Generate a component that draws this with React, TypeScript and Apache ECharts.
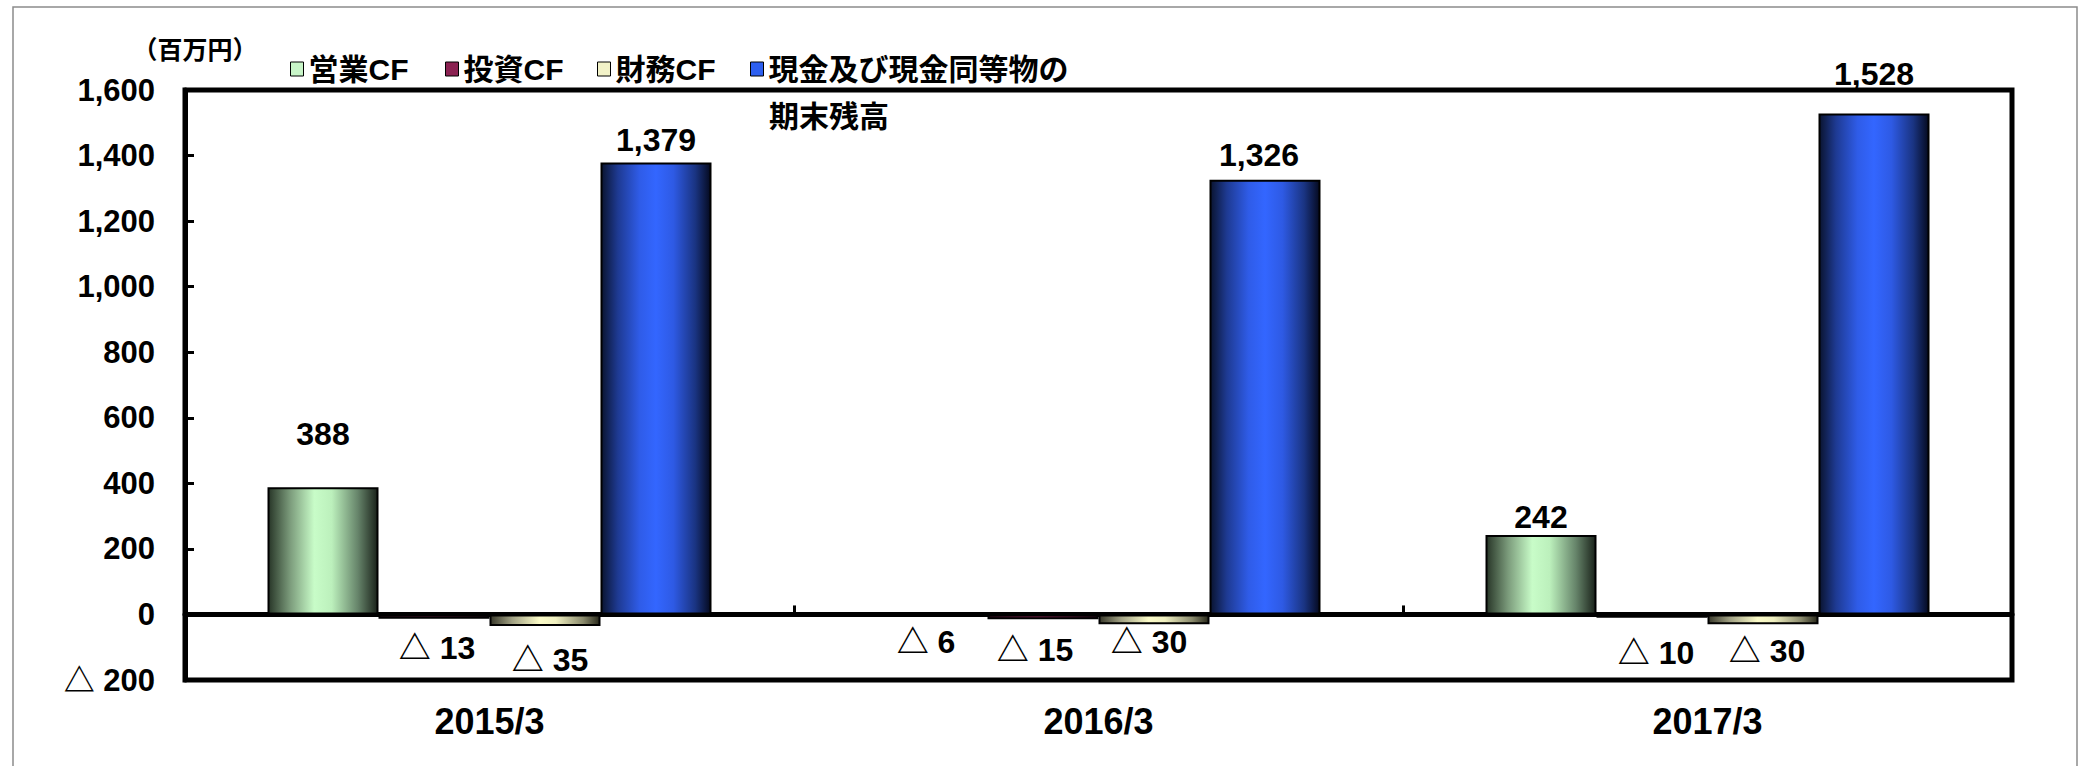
import React, { useEffect, useRef } from 'react';
import * as echarts from 'echarts';

// ---- data ----
const categories = ['2015/3', '2016/3', '2017/3'];
const seriesNames = ['営業CF', '投資CF', '財務CF', '現金及び現金同等物の期末残高'];
const operatingCF = [388, -6, 242];
const investingCF = [-13, -15, -10];
const financingCF = [-35, -30, -30];
const cashBalance = [1379, 1326, 1528];
const yMin = -200;
const yMax = 1600;
const yInterval = 200;
const unitLabel = '（百万円）';
const legendLine1 = '現金及び現金同等物の';
const legendLine2 = '期末残高';

// ---- label layout (distance from bar end, horizontal shift) ----
const labelDist = [
  [36, 8.5, 1],
  [12, 14, 18],
  [17.5, 1, 10],
  [5.7, 7.5, 23],
];
const labelDx = [
  [0, -6, 0],
  [3, -8, 4],
  [5, -5, 4],
  [0, -6, 0],
];

const LABEL = "'Liberation Sans', Arial, 'Noto Sans CJK JP', sans-serif";
const SANS = "'Liberation Sans', Arial, 'Noto Sans CJK JP', sans-serif";
const CJK = "'Noto Sans CJK JP', sans-serif";
const LEGEND_FONT = "'Liberation Sans', 'Noto Sans CJK JP', sans-serif";

const fmt = (v: number) => (v < 0 ? '△ ' + Math.abs(v).toLocaleString('en-US') : v.toLocaleString('en-US'));

const gradients = [
  [
    { offset: 0, color: '#283628' },
    { offset: 0.2, color: '#7c9c7c' },
    { offset: 0.42, color: '#c8fcc8' },
    { offset: 0.58, color: '#bcf0bc' },
    { offset: 0.82, color: '#66846a' },
    { offset: 1, color: '#1a221a' },
  ],
  [
    { offset: 0, color: '#2a0a18' },
    { offset: 0.25, color: '#6a1a40' },
    { offset: 0.45, color: '#8b2252' },
    { offset: 0.75, color: '#5a1535' },
    { offset: 1, color: '#1a0510' },
  ],
  [
    { offset: 0, color: '#38382a' },
    { offset: 0.2, color: '#a2a284' },
    { offset: 0.45, color: '#fcfcc8' },
    { offset: 0.6, color: '#f0f0c0' },
    { offset: 0.85, color: '#8a8a6c' },
    { offset: 1, color: '#28281a' },
  ],
  [
    { offset: 0, color: '#0a1430' },
    { offset: 0.15, color: '#1e3a92' },
    { offset: 0.35, color: '#2f5ce8' },
    { offset: 0.5, color: '#3366ff' },
    { offset: 0.66, color: '#2e5ae4' },
    { offset: 0.86, color: '#1a3482' },
    { offset: 1, color: '#050a20' },
  ],
];
const legendColors = ['#c8f5c8', '#8b2252', '#f2f2c8', '#2d5ff0'];
const legendLeft = [290, 445, 597, 750];

export default function App() {
  const ref = useRef<HTMLDivElement>(null);
  useEffect(() => {
    if (!ref.current) return;
    const chart = echarts.init(ref.current, undefined, { renderer: 'svg' });
    const values = [operatingCF, investingCF, financingCF, cashBalance];
    const series = values.map((vals, si) => ({
      type: 'bar',
      name: seriesNames[si],
      barWidth: 111,
      barGap: '0%',
      itemStyle: {
        color: new echarts.graphic.LinearGradient(0, 0, 1, 0, gradients[si]),
        borderColor: '#000',
        borderWidth: 2,
      },
      label: {
        show: true,
        formatter: (p: any) => fmt(p.value),
        fontFamily: LABEL,
        fontSize: 32,
        lineHeight: 34,
        fontWeight: 'bold',
        color: '#000',
      },
      data: vals.map((v, i) => ({
        value: v,
        label: {
          position: v >= 0 ? 'top' : 'bottom',
          distance: labelDist[si][i],
          offset: [labelDx[si][i], 0],
        },
      })),
    }));
    const legends = seriesNames.map((n, i) => ({
      show: true,
      left: legendLeft[i],
      top: 51,
      padding: 0,
      icon: 'rect',
      itemWidth: 13,
      itemHeight: 14,
      itemGap: 0,
      selectedMode: false,
      formatter: i === 3 ? () => legendLine1 : undefined,
      itemStyle: { borderColor: '#000', borderWidth: 1 },
      textStyle: { fontFamily: LEGEND_FONT, fontSize: 30, lineHeight: 36, fontWeight: 'bold', color: '#000' },
      data: [{ name: n, itemStyle: { color: legendColors[i], borderColor: '#000', borderWidth: 1 } }],
    }));
    chart.setOption({
      animation: false,
      backgroundColor: '#fff',
      legend: legends,
      grid: {
        left: 185,
        top: 90,
        right: 70,
        bottom: 86,
        show: true,
        borderColor: '#000',
        borderWidth: 5,
        containLabel: false,
        outerBoundsMode: 'none',
      },
      xAxis: {
        type: 'category',
        data: categories,
        axisLine: { show: true, onZero: true, lineStyle: { color: '#000', width: 5 } },
        axisTick: { show: true, inside: true, length: 9, lineStyle: { color: '#000', width: 3 } },
        axisLabel: {
          margin: 23,
          fontFamily: SANS,
          fontSize: 36,
          fontWeight: 'bold',
          color: '#000',
        },
        splitLine: { show: false },
      },
      yAxis: {
        type: 'value',
        min: yMin,
        max: yMax,
        interval: yInterval,
        axisLine: { show: true, lineStyle: { color: '#000', width: 5 } },
        axisTick: { show: true, inside: true, length: 9, lineStyle: { color: '#000', width: 3 } },
        axisLabel: {
          margin: 30,
          formatter: (v: number) => fmt(v),
          fontFamily: SANS,
          fontSize: 31,
          fontWeight: 'bold',
          color: '#000',
        },
        splitLine: { show: false },
      },
      graphic: [
        {
          type: 'rect',
          shape: { x: 13, y: 7, width: 2064, height: 800 },
          style: { fill: 'none', stroke: '#8c8c8c', lineWidth: 1.5 },
          silent: true,
        },
        {
          type: 'text',
          x: 195,
          y: 48,
          style: {
            text: unitLabel,
            fontFamily: CJK,
            fontSize: 25,
            fontWeight: 'bold',
            fill: '#000',
            align: 'center',
            verticalAlign: 'middle',
          },
        },
        {
          type: 'text',
          x: 769,
          y: 114,
          style: {
            text: legendLine2,
            fontFamily: CJK,
            fontSize: 30,
            fontWeight: 'bold',
            fill: '#000',
            align: 'left',
            verticalAlign: 'middle',
          },
        },
      ],
      series,
    });
    return () => chart.dispose();
  }, []);
  return (
    <div
      ref={ref}
      style={{ position: 'fixed', left: 0, top: 0, width: 2082, height: 766, background: '#fff' }}
    />
  );
}
